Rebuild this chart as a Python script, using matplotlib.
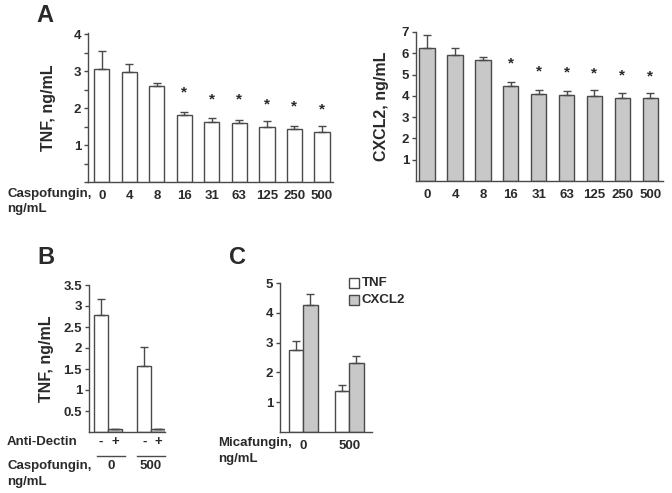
import matplotlib.pyplot as plt
from matplotlib.ticker import MultipleLocator
from matplotlib.patches import Rectangle
from matplotlib.transforms import blended_transform_factory

plt.rcParams['font.family'] = ['Liberation Sans', 'DejaVu Sans']
plt.rcParams['font.weight'] = 'bold'

# panel A
caspo_doses = ['0', '4', '8', '16', '31', '63', '125', '250', '500']
tnf_caspo = [3.05, 2.97, 2.6, 1.8, 1.63, 1.6, 1.5, 1.43, 1.36]
tnf_caspo_err = [0.49, 0.23, 0.08, 0.08, 0.09, 0.09, 0.15, 0.09, 0.16]
tnf_star = [None, None, None, 2.43, 2.23, 2.22, 2.1, 2.05, 1.97]
cxcl2_caspo = [6.25, 5.92, 5.67, 4.46, 4.1, 4.04, 3.99, 3.91, 3.88]
cxcl2_caspo_err = [0.6, 0.33, 0.16, 0.2, 0.18, 0.2, 0.29, 0.23, 0.26]
cxcl2_star = [None, None, None, 5.5, 5.13, 5.08, 5.05, 4.97, 4.92]

# panel B
dectin_groups = ['0', '500']
dectin_signs = ['-', '+', '-', '+']
tnf_dectin = [2.79, 0.08, 1.58, 0.07]
tnf_dectin_err = [0.38, 0.0, 0.45, 0.0]

# panel C
mica_doses = ['0', '500']
tnf_mica = [2.75, 1.39]
tnf_mica_err = [0.3, 0.18]
cxcl2_mica = [4.26, 2.3]
cxcl2_mica_err = [0.37, 0.25]

W, H = 672, 493
fig = plt.figure(figsize=(W / 100, H / 100), dpi=100)
ink = '#2a2a2a'
edge = '#4a4a4a'
gray = '#c8c8c8'
fs = 9.5
yfs = 11.5


def px_axes(x0, x1, y_top, y_bot):
    return fig.add_axes([x0 / W, 1 - y_bot / H, (x1 - x0) / W, (y_bot - y_top) / H])


def style(ax):
    for s in ['top', 'right']:
        ax.spines[s].set_visible(False)
    for s in ['left', 'bottom']:
        ax.spines[s].set_color(edge)
        ax.spines[s].set_linewidth(1.0)
    ax.tick_params(axis='y', which='both', length=3, width=1, color=edge,
                   labelsize=fs, labelcolor=ink, pad=2)
    ax.tick_params(axis='x', length=0, labelsize=fs, labelcolor=ink, pad=6)


def bars(ax, x, vals, errs, color, width):
    ax.bar(x, vals, width=width, color=color, edgecolor=edge, linewidth=1.0,
           yerr=[[0] * len(errs), errs], capsize=3,
           error_kw=dict(ecolor=edge, elinewidth=1.0, capthick=1.0))


def fig_text(x, y, s, **kw):
    kw.setdefault('fontsize', fs)
    kw.setdefault('color', ink)
    kw.setdefault('fontweight', 'bold')
    kw.setdefault('va', 'center')
    fig.text(x / W, 1 - y / H, s, **kw)


# A left
ax = px_axes(88, 333, 33, 182)
x = list(range(len(caspo_doses)))
bars(ax, x, tnf_caspo, tnf_caspo_err, 'white', 0.55)
for i, s in enumerate(tnf_star):
    if s is not None:
        ax.text(i, s, '*', ha='center', va='center', fontsize=11, color=ink)
ax.set_xlim(-0.5, 8.4)
ax.set_ylim(0, 4.03)
ax.set_yticks([1, 2, 3, 4])
ax.yaxis.set_minor_locator(MultipleLocator(0.5))
ax.set_xticks(x)
ax.set_xticklabels(caspo_doses, fontweight='bold')
style(ax)
ax.set_ylabel('TNF, ng/mL', fontsize=yfs, fontweight='bold', color=ink, labelpad=13)
fig_text(7, 194, 'Caspofungin,')
fig_text(7, 209, 'ng/mL')

# A right
ax = px_axes(416, 663, 32, 181)
bars(ax, x, cxcl2_caspo, cxcl2_caspo_err, gray, 0.55)
for i, s in enumerate(cxcl2_star):
    if s is not None:
        ax.text(i, s, '*', ha='center', va='center', fontsize=11, color=ink)
ax.set_xlim(-0.4, 8.46)
ax.set_ylim(0, 7)
ax.set_yticks(range(1, 8))
ax.set_xticks(x)
ax.set_xticklabels(caspo_doses, fontweight='bold')
style(ax)
ax.set_ylabel('CXCL2, ng/mL', fontsize=yfs, fontweight='bold', color=ink, labelpad=9)

# B
ax = px_axes(89, 165, 285, 432)
xb = [0, 1, 3.1, 4.1]
bars(ax, xb, tnf_dectin, tnf_dectin_err, ['white', gray, 'white', gray], 1.0)
ax.set_xlim(-0.86, 4.57)
ax.set_ylim(0, 3.5)
ax.set_yticks([0.5, 1, 1.5, 2, 2.5, 3, 3.5])
ax.set_yticklabels(['0.5', '1', '1.5', '2', '2.5', '3', '3.5'])
ax.set_xticks([])
style(ax)
ax.set_ylabel('TNF, ng/mL', fontsize=yfs, fontweight='bold', color=ink, labelpad=7)
tr = blended_transform_factory(ax.transData, fig.transFigure)
for xi, s in zip(xb, dectin_signs):
    fig.text(xi, 1 - 442 / H, s, transform=tr, ha='center', va='center',
             fontsize=fs, fontweight='bold', color=ink)
fig_text(7, 442, 'Anti-Dectin')
for x0, x1, lab in [(97, 125, dectin_groups[0]), (137, 165, dectin_groups[1])]:
    fig.add_artist(plt.Line2D([x0 / W, x1 / W], [1 - 456 / H] * 2, color=edge, lw=1))
    fig_text((x0 + x1) / 2, 466, lab, ha='center')
fig_text(7, 466, 'Caspofungin,')
fig_text(7, 482, 'ng/mL')

# C
ax = px_axes(280, 372, 283, 432)
xc = [0, 3.17]
bars(ax, xc, tnf_mica, tnf_mica_err, 'white', 1.0)
bars(ax, [v + 1 for v in xc], cxcl2_mica, cxcl2_mica_err, gray, 1.0)
ax.set_xlim(-1.1, 5.24)
ax.set_ylim(0, 5)
ax.set_yticks(range(1, 6))
ax.set_xticks([v + 0.5 for v in xc])
ax.set_xticklabels(mica_doses, fontweight='bold')
style(ax)
fig_text(218, 443, 'Micafungin,')
fig_text(218, 459, 'ng/mL')

# legend
for yy, fc, lab in [(283, 'white', 'TNF'), (300, gray, 'CXCL2')]:
    fig.add_artist(Rectangle((349 / W, 1 - (yy + 5) / H), 10 / W, 10 / H,
                             facecolor=fc, edgecolor=edge, lw=1))
    fig_text(362, yy, lab)

# panel letters
fig_text(45, 15, 'A', fontsize=17, ha='center')
fig_text(46, 258, 'B', fontsize=17, ha='center')
fig_text(238, 258, 'C', fontsize=17, ha='center')

fig.savefig('out.png', dpi=100, facecolor='white')
